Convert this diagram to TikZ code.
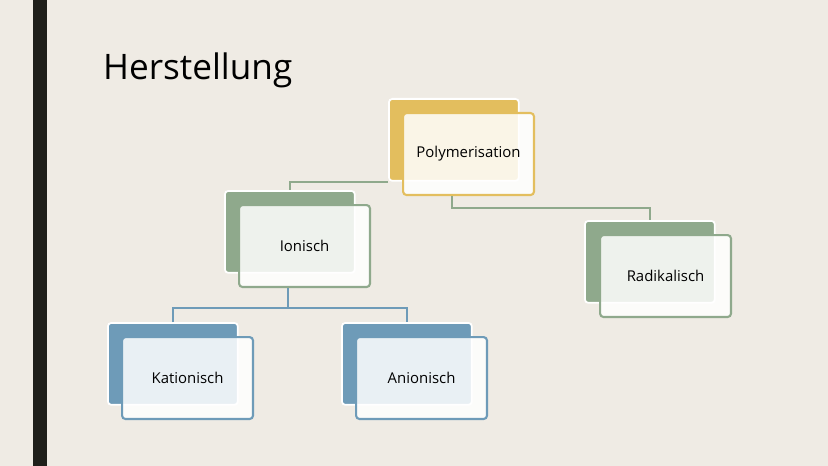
\documentclass[tikz,border=0pt]{standalone}
\usepackage{fontspec}
\setmainfont{Open Sans}
\usetikzlibrary{positioning}
\definecolor{bg}{HTML}{EFEBE4}
\definecolor{bar}{HTML}{1F1F1A}
\definecolor{gold}{HTML}{E3BE5E}
\definecolor{sage}{HTML}{8FA98C}
\definecolor{steel}{HTML}{6E9BB8}
\tikzset{
  backbox/.style={draw=white, line width=1pt, fill=#1, rounded corners=2pt,
    minimum width=2.6cm, minimum height=1.64cm, anchor=north west},
  frontbox/.style={draw=#1, line width=1.2pt, fill=white, fill opacity=0.85, text opacity=1,
    rounded corners=2pt, minimum width=2.62cm, minimum height=1.64cm, anchor=north west,
    font=\fontsize{8.5}{10}\selectfont},
  link/.style={draw=#1, line width=1.2pt}
}
\begin{document}
\begin{tikzpicture}[x=0.02cm,y=-0.02cm]
\fill[bg] (0,0) rectangle (828,466);
\fill[bar] (33,0) rectangle (47,466);
\node[anchor=west, font=\fontsize{20}{24}\selectfont] (title) at (97,70) {Herstellung};

% back boxes
\node[backbox=gold]  (polyB) at (388,98)  {};
\node[backbox=sage]  (ionB)  at (224,190) {};
\node[backbox=sage]  (radB)  at (584,220) {};
\node[backbox=steel] (katB)  at (107,322) {};
\node[backbox=steel] (anB)   at (341,322) {};

% front boxes
\node[frontbox=gold]  (polyF) at (402,112) {Polymerisation};
\node[frontbox=sage]  (ionF)  at (238,204) {Ionisch};
\node[frontbox=sage]  (radF)  at (599,234) {Radikalisch};
\node[frontbox=steel] (katF)  at (121,336) {Kationisch};
\node[frontbox=steel] (anF)   at (355,336) {Anionisch};

% connectors
\coordinate (pr) at (452,208);
\coordinate (ik) at (288,308);
\draw[link=sage] (polyB.south west) -| (ionB.north);
\draw[link=sage] (pr |- polyF.south) -- (pr) -| (radB.north);
\draw[link=steel] (ik |- ionF.south) -- (ik);
\draw[link=steel] (katB.north) |- (ik) -| (anB.north);
\end{tikzpicture}
\end{document}
